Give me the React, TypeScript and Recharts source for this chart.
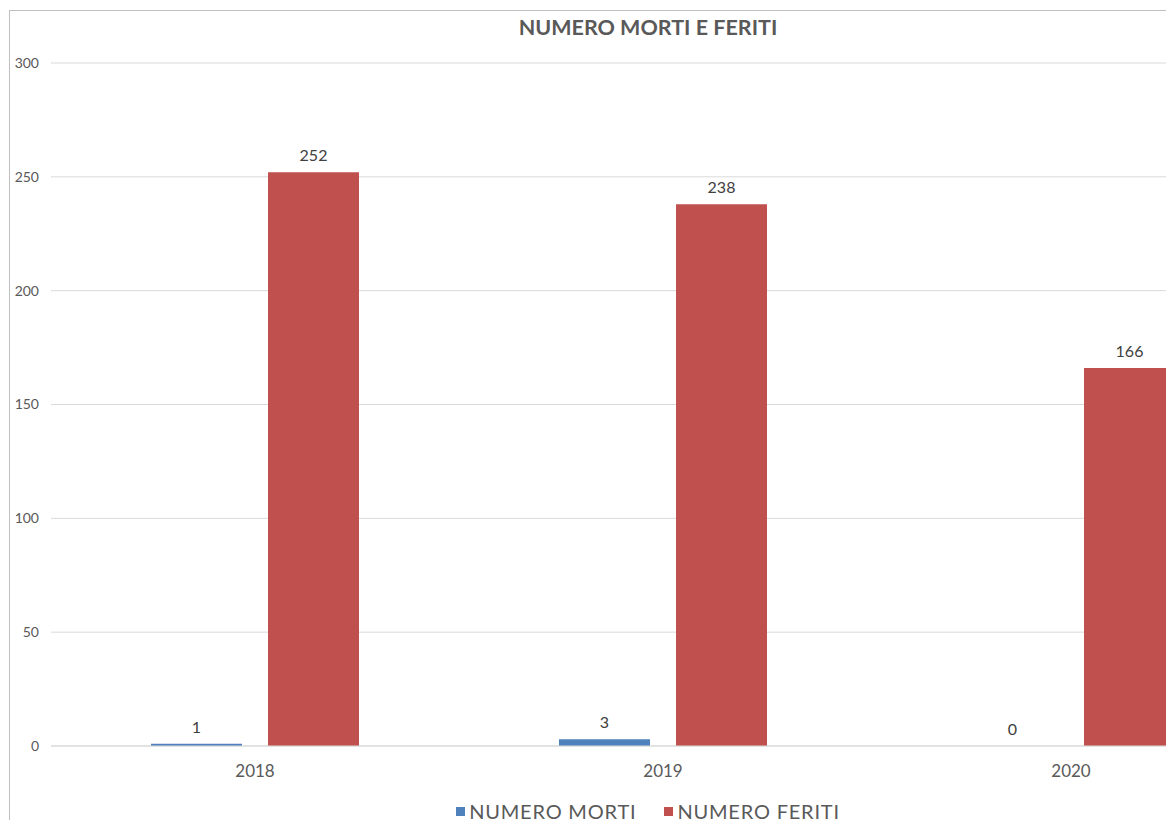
import React from "react";
import { BarChart, Bar, XAxis, YAxis, CartesianGrid, LabelList } from "recharts";

const years = ["2018", "2019", "2020"];
const morti = [1, 3, 0];
const feriti = [252, 238, 166];
const yTicks = [0, 50, 100, 150, 200, 250, 300];
const title = "NUMERO MORTI E FERITI";
const seriesNames = ["NUMERO MORTI", "NUMERO FERITI"];
const colors = ["#4f81bd", "#c0504d"];

const data = years.map((y, i) => ({ year: y, morti: morti[i], feriti: feriti[i] }));

const FONT = "Lato, 'Open Sans', sans-serif";

// keeps zero-valued bars present (invisible, sub-pixel) so their "0" label is drawn
const zeroKeep = (value: any) => (value === 0 ? 0.01 : 0);

export default function App() {
  return (
    <div
      style={{
        position: "fixed",
        left: 0,
        top: 0,
        width: 1166,
        height: 820,
        overflow: "hidden",
        background: "#fff",
        fontFamily: FONT,
      }}
    >
      <div
        style={{
          position: "absolute",
          left: 9,
          top: 10,
          width: 1300,
          height: 900,
          borderLeft: "1px solid #bfbfbf",
          borderTop: "1px solid #bfbfbf",
        }}
      >
        <div
          style={{
            position: "absolute",
            left: 0,
            width: 1276,
            top: 3,
            textAlign: "center",
            fontWeight: 700,
            fontSize: 21.5,
            color: "#595959",
            lineHeight: "26px",
          }}
        >
          {title}
        </div>
        <BarChart
          width={1276}
          height={820}
          data={data}
          margin={{ top: 52, right: 11, bottom: 45, left: 0 }}
          barCategoryGap={100}
          barGap={26}
        >
          <CartesianGrid horizontal vertical={false} stroke="#d9d9d9" />
          <XAxis
            dataKey="year"
            height={40}
            tickLine={false}
            tickSize={0}
            tickMargin={19}
            axisLine={{ stroke: "#d9d9d9" }}
            tick={{ fill: "#595959", fontSize: 17, fontFamily: FONT }}
          />
          <YAxis
            width={41}
            domain={[0, 300]}
            ticks={yTicks}
            axisLine={false}
            tickLine={false}
            tickSize={0}
            tickMargin={12}
            tick={{ fill: "#595959", fontSize: 14, fontFamily: FONT }}
          />
          <Bar dataKey="morti" fill={colors[0]} minPointSize={zeroKeep} isAnimationActive={false}>
            <LabelList dataKey="morti" position="top" offset={11} fill="#404040" fontSize={16} fontFamily={FONT} />
          </Bar>
          <Bar dataKey="feriti" fill={colors[1]} isAnimationActive={false}>
            <LabelList dataKey="feriti" position="top" offset={11} fill="#404040" fontSize={16} fontFamily={FONT} />
          </Bar>
        </BarChart>
        <div
          style={{
            position: "absolute",
            top: 788,
            left: 0,
            width: 1276,
            display: "flex",
            justifyContent: "center",
            gap: 28,
            fontSize: 20,
            letterSpacing: 0.8,
            color: "#595959",
            lineHeight: "24px",
          }}
        >
          {seriesNames.map((n, i) => (
            <div key={n} style={{ display: "flex", alignItems: "center" }}>
              <span style={{ display: "inline-block", width: 9, height: 9, background: colors[i], marginRight: 4 }} />
              <span>{n}</span>
            </div>
          ))}
        </div>
      </div>
    </div>
  );
}
